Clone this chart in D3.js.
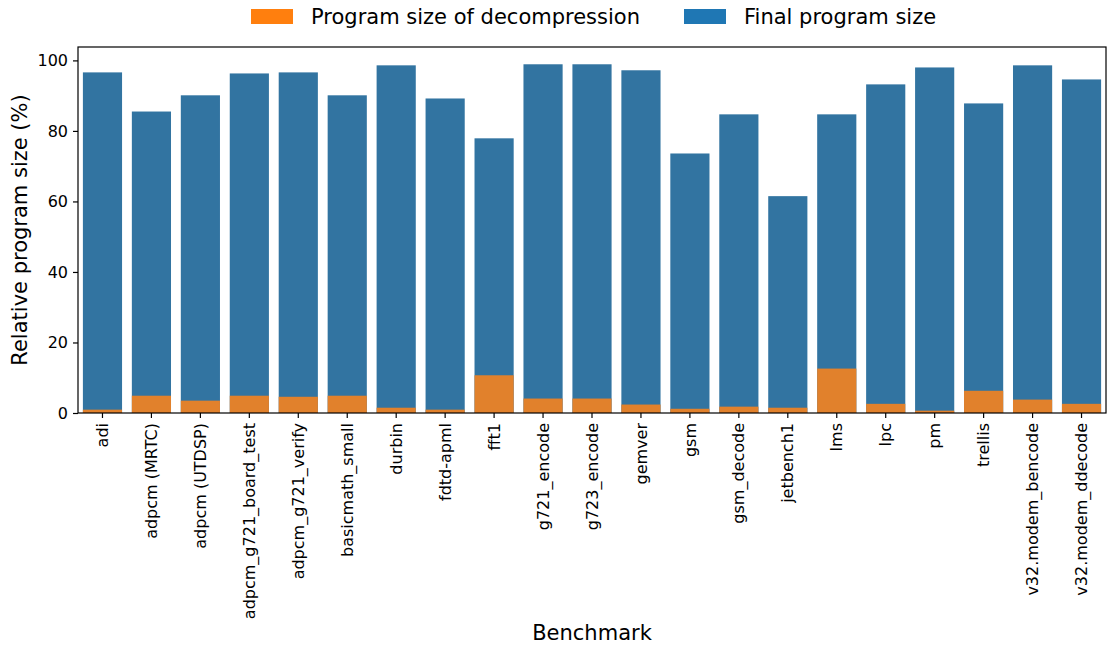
<!DOCTYPE html>
<html>
<head>
<meta charset="utf-8">
<script src="https://cdn.jsdelivr.net/npm/d3@7"></script>
<style>
  html, body { margin: 0; padding: 0; background: #fff; }
  svg { display: block; font-family: "DejaVu Sans", sans-serif; }
</style>
</head>
<body>
<svg id="chart" width="1108" height="648"></svg>
<script>
// Benchmarks on the x axis
const benchmarks = [
  "adi", "adpcm (MRTC)", "adpcm (UTDSP)", "adpcm_g721_board_test", "adpcm_g721_verify",
  "basicmath_small", "durbin", "fdtd-apml", "fft1", "g721_encode", "g723_encode",
  "gemver", "gsm", "gsm_decode", "jetbench1", "lms", "lpc", "pm", "trellis",
  "v32.modem_bencode", "v32.modem_ddecode"
];
// Final program size relative to original (%)
const finalSize = [
  96.6, 85.5, 90.1, 96.3, 96.6, 90.1, 98.6, 89.2, 77.9, 98.9, 98.9,
  97.2, 73.6, 84.7, 61.5, 84.7, 93.2, 98.0, 87.8, 98.6, 94.6
];
// Share taken by the decompression routine (%)
const decompSize = [
  0.95, 4.9, 3.5, 4.9, 4.6, 4.9, 1.5, 0.95, 10.7, 4.1, 4.1,
  2.4, 1.2, 1.8, 1.5, 12.6, 2.6, 0.66, 6.3, 3.8, 2.6
];
const yTicks = [0, 20, 40, 60, 80, 100];
const legendItems = ["Program size of decompression", "Final program size"];

const svg = d3.select("#chart");
const plotLeft = 78, plotRight = 1106, plotTop = 47, plotBottom = 413;

const x = d3.scaleBand()
  .domain(benchmarks)
  .range([plotLeft, plotRight])
  .paddingInner(0.2)
  .paddingOuter(0.1);

const y = d3.scaleLinear()
  .domain([0, 103.8])
  .range([plotBottom, plotTop]);

const rows = benchmarks.map((b, i) => ({ name: b, total: finalSize[i], decomp: decompSize[i] }));

// Final program size bars
svg.append("g").selectAll("rect").data(rows).join("rect")
  .attr("x", d => x(d.name))
  .attr("width", x.bandwidth())
  .attr("y", d => y(d.total))
  .attr("height", d => y(0) - y(d.total))
  .attr("fill", "#3274a1");

// Decompression share drawn over the base of each bar
svg.append("g").selectAll("rect").data(rows).join("rect")
  .attr("x", d => x(d.name))
  .attr("width", x.bandwidth())
  .attr("y", d => y(d.decomp))
  .attr("height", d => y(0) - y(d.decomp))
  .attr("fill", "#e1812c");

// Y axis
const yAxis = svg.append("g")
  .attr("transform", `translate(${plotLeft},0)`)
  .call(d3.axisLeft(y).tickValues(yTicks).tickSize(5).tickPadding(5));
yAxis.select(".domain").remove();
yAxis.selectAll(".tick line").attr("stroke", "#000").attr("stroke-width", 1.2);
yAxis.selectAll(".tick text")
  .attr("font-size", 16).attr("fill", "#000")
  .attr("font-family", "DejaVu Sans");

// X axis with vertical labels
const xAxis = svg.append("g")
  .attr("transform", `translate(0,${plotBottom})`)
  .call(d3.axisBottom(x).tickSize(5).tickPadding(5));
xAxis.select(".domain").remove();
xAxis.selectAll(".tick line").attr("stroke", "#000").attr("stroke-width", 1.2);
xAxis.selectAll(".tick text")
  .attr("font-size", 16).attr("fill", "#000")
  .attr("font-family", "DejaVu Sans")
  .attr("transform", "rotate(-90)")
  .attr("text-anchor", "end")
  .attr("dy", "0.35em")
  .attr("x", -10)
  .attr("y", 0);

// Frame around the plotting area
svg.append("rect")
  .attr("x", plotLeft).attr("y", plotTop)
  .attr("width", plotRight - plotLeft).attr("height", plotBottom - plotTop)
  .attr("fill", "none").attr("stroke", "#000").attr("stroke-width", 1.2);

// Axis titles
svg.append("text")
  .attr("x", (plotLeft + plotRight) / 2).attr("y", 640)
  .attr("text-anchor", "middle")
  .attr("font-size", 21)
  .text("Benchmark");

svg.append("text")
  .attr("transform", `translate(27,${(plotTop + plotBottom) / 2}) rotate(-90)`)
  .attr("text-anchor", "middle")
  .attr("font-size", 21)
  .text("Relative program size (%)");

// Legend above the plot
const legendColors = ["#ff7f0e", "#1f77b4"];
const legendX = [251, 684];
const legend = svg.append("g");
legendItems.forEach((label, i) => {
  legend.append("rect")
    .attr("x", legendX[i]).attr("y", 9)
    .attr("width", 42).attr("height", 15)
    .attr("fill", legendColors[i]);
  legend.append("text")
    .attr("x", legendX[i] + 60).attr("y", 24)
    .attr("font-size", 21)
    .text(label);
});
</script>
</body>
</html>
